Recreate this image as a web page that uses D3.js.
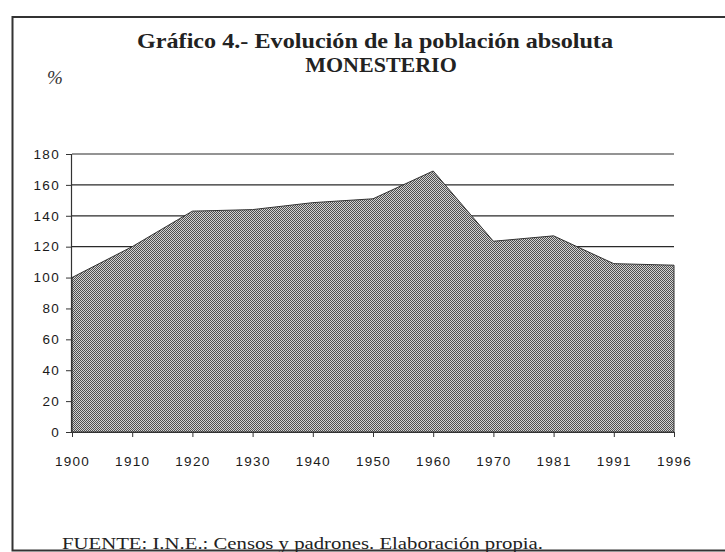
<!DOCTYPE html>
<html>
<head>
<meta charset="utf-8">
<script src="https://cdn.jsdelivr.net/npm/d3@7"></script>
<style>
  body { margin: 0; background: #fff; }
  svg { display: block; }
</style>
</head>
<body>
<svg id="chart"></svg>
<script>
// datos
const years = ["1900", "1910", "1920", "1930", "1940", "1950", "1960", "1970", "1981", "1991", "1996"];
const values = [100, 120, 143, 144, 148.5, 151, 169, 123.5, 127, 109, 108];
const yTicks = [0, 20, 40, 60, 80, 100, 120, 140, 160, 180];

const width = 725;
const height = 552;

const svg = d3.select("#chart")
    .attr("width", width)
    .attr("height", height);

// trama de puntos del area
const defs = svg.append("defs");
const pat = defs.append("pattern")
    .attr("id", "dots")
    .attr("width", 2)
    .attr("height", 2)
    .attr("patternUnits", "userSpaceOnUse");
pat.append("rect").attr("width", 2).attr("height", 2).attr("fill", "#d2d2d2");
pat.append("rect").attr("x", 0).attr("y", 0).attr("width", 1).attr("height", 1).attr("fill", "#4e4e4e");
pat.append("rect").attr("x", 1).attr("y", 1).attr("width", 1).attr("height", 1).attr("fill", "#4e4e4e");

// marco
svg.append("rect")
    .attr("x", 12.5)
    .attr("y", 17)
    .attr("width", 800)
    .attr("height", 533.5)
    .attr("fill", "none")
    .attr("stroke", "#333")
    .attr("stroke-width", 2);

const x = d3.scalePoint()
    .domain(years)
    .range([72, 674]);

const y = d3.scaleLinear()
    .domain([0, 180])
    .range([432, 154]);

// lineas de division
svg.append("g")
    .selectAll("line")
    .data(yTicks.filter(d => d > 0))
    .enter().append("line")
    .attr("x1", 72)
    .attr("x2", 674)
    .attr("y1", d => y(d))
    .attr("y2", d => y(d))
    .attr("stroke", "#2a2a2a")
    .attr("stroke-width", 1.2);

// area
const area = d3.area()
    .x((d, i) => x(years[i]))
    .y0(y(0))
    .y1(d => y(d));

svg.append("path")
    .datum(values)
    .attr("d", area)
    .attr("fill", "url(#dots)")
    .attr("stroke", "#333")
    .attr("stroke-width", 1);

// ejes
const yAxis = svg.append("g")
    .attr("transform", "translate(72,0)")
    .call(d3.axisLeft(y).tickValues(yTicks).tickSize(6).tickPadding(6));

const xAxis = svg.append("g")
    .attr("transform", `translate(0,${y(0)})`)
    .call(d3.axisBottom(x).tickSize(5).tickPadding(19));

[yAxis, xAxis].forEach(g => {
    g.select(".domain").attr("stroke", "#333").attr("stroke-width", 1.2);
    g.selectAll(".tick line").attr("stroke", "#333");
    g.selectAll("text")
        .attr("fill", "#1a1a1a")
        .style("font-family", "'Liberation Sans', Arial, sans-serif")
        .style("font-size", "13.5px")
        .style("letter-spacing", "1.3px");
});
yAxis.select(".domain").attr("d", `M-0.5,${y(180)}V${y(0)}`);
xAxis.select(".domain").attr("d", `M72,0.5H674`);

// titulos
svg.append("text")
    .attr("x", 375)
    .attr("y", 48)
    .attr("text-anchor", "middle")
    .attr("textLength", 476)
    .attr("lengthAdjust", "spacingAndGlyphs")
    .style("font-family", "'Liberation Serif', 'Times New Roman', serif")
    .style("font-weight", "bold")
    .style("font-size", "21px")
    .attr("fill", "#222")
    .text("Gráfico 4.- Evolución de la población absoluta");

svg.append("text")
    .attr("x", 381)
    .attr("y", 72)
    .attr("text-anchor", "middle")
    .style("font-family", "'Liberation Serif', 'Times New Roman', serif")
    .style("font-weight", "bold")
    .style("font-size", "22px")
    .attr("fill", "#222")
    .text("MONESTERIO");

svg.append("text")
    .attr("x", 47)
    .attr("y", 84)
    .style("font-family", "'Liberation Serif', 'Times New Roman', serif")
    .style("font-style", "italic")
    .style("font-size", "19px")
    .attr("fill", "#333")
    .text("%");

svg.append("text")
    .attr("x", 62)
    .attr("y", 549)
    .attr("textLength", 481)
    .attr("lengthAdjust", "spacingAndGlyphs")
    .style("font-family", "'Liberation Serif', 'Times New Roman', serif")
    .style("font-size", "17px")
    .attr("fill", "#222")
    .text("FUENTE:  I.N.E.: Censos y padrones. Elaboración propia.");
</script>
</body>
</html>
